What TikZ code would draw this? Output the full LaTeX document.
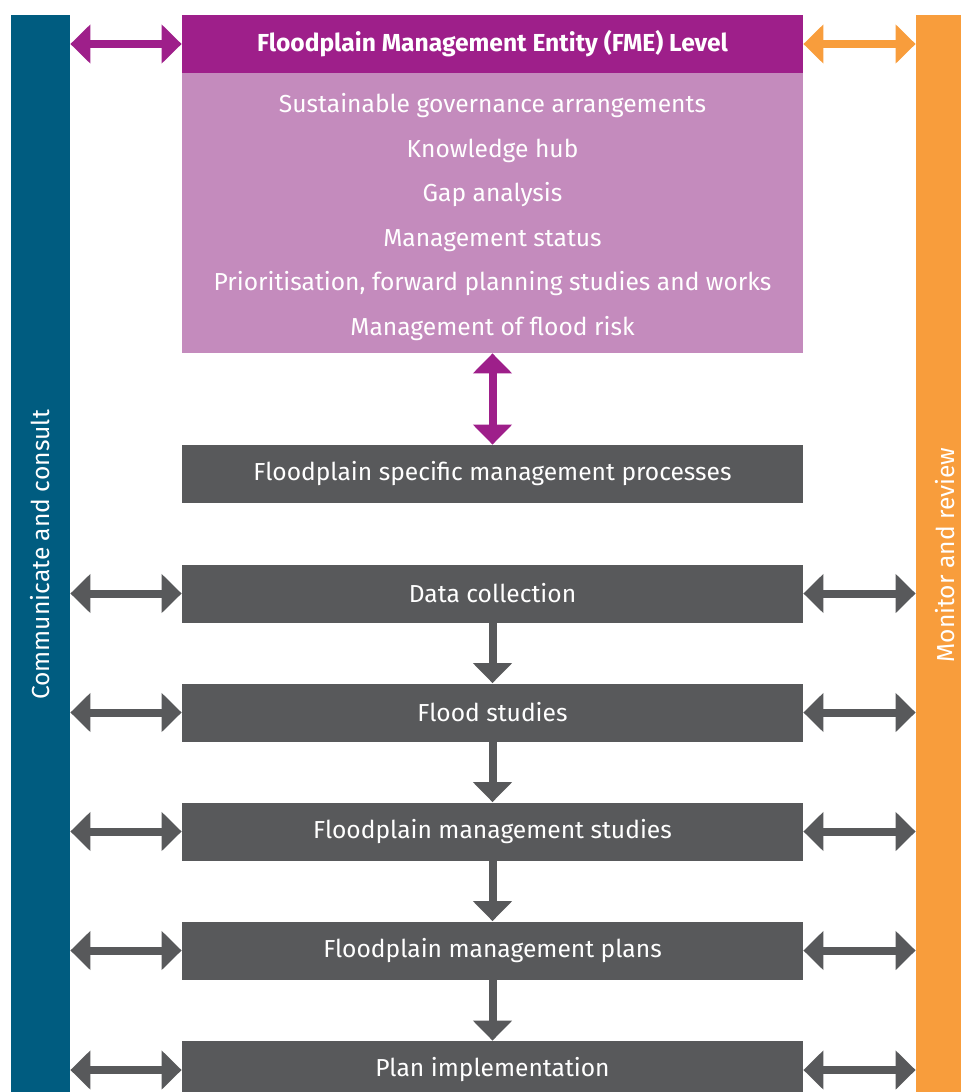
\documentclass[tikz,border=0pt]{standalone}
\usepackage{fontspec}
\setmainfont{Fira Sans}
\usepackage{xcolor}
\usepackage{tikz}
\usetikzlibrary{arrows.meta,positioning}
\definecolor{bluecons}{RGB}{0,92,128}
\definecolor{orangemon}{RGB}{248,157,60}
\definecolor{purplefme}{RGB}{158,31,138}
\definecolor{lilacfme}{RGB}{196,139,189}
\definecolor{greyproc}{RGB}{88,89,91}

\begin{document}
\begin{tikzpicture}[x=0.5pt,y=-0.5pt]

           \tikzstyle{every node}=[text=white,inner sep=0pt,font=\fontsize{12.3}{14}\selectfont]
           \tikzstyle{proc}=[fill=greyproc,minimum width=310.5pt,minimum height=29pt]
           \tikzstyle{bar}=[minimum width=29.5pt,minimum height=542.5pt]
           \tikzstyle{dbl}=[line width=4pt,{Triangle[length=10pt,width=19pt]}-{Triangle[length=10pt,width=19pt]}]
           \tikzstyle{sgl}=[line width=4pt,color=greyproc,-{Triangle[length=10pt,width=19pt]}]

    \useasboundingbox (0,0) rectangle (961,1092);
    \clip (0,0) rectangle (961,1092);

    % side bars
    \node[bar, fill=bluecons] (LB) at (40.5,557.5) {};
    \node[rotate=90] (LBtext) at (40.5,555) {Communicate and consult};
    \node[bar, fill=orangemon] (RB) at (945.5,557.5) {};
    \node[rotate=90] (RBtext) at (945.5,555) {Monitor and review};

    % FME level
    \node[fill=purplefme, minimum width=310.5pt, minimum height=29pt, font=\fontsize{12.3}{14}\selectfont\bfseries] (FME) at (492.5,44) {Floodplain Management Entity (FME) Level};
    \node[fill=lilacfme, minimum width=310.5pt, minimum height=140pt] (FMEbody) at (492.5,213) {};
    \node[align=center, font=\fontsize{12.3}{22.25}\selectfont] (FMEtext) at (492.5,217)
        {Sustainable governance arrangements\\Knowledge hub\\Gap analysis\\Management status\\Prioritisation, forward planning studies and works\\Management of flood risk};

    % processes
    \node[proc] (P0) at (492.5,474) {Floodplain specific management processes};
    \node[proc] (P1) at (492.5,593.5) {Data collection};
    \node[proc] (P2) at (492.5,712.5) {Flood studies};
    \node[proc] (P3) at (492.5,831.5) {Floodplain management studies};
    \node[proc] (P4) at (492.5,950.5) {Floodplain management plans};
    \node[proc] (P5) at (492.5,1070) {Plan implementation};

    \draw[dbl, color=purplefme] (LB.east |- FME.west) -- (FME.west);
    \draw[dbl, color=orangemon] (FME.east) -- (RB.west |- FME.east);
    \draw[dbl, color=purplefme] (FMEbody.south) -- (P0.north);

    \draw[dbl, color=greyproc] (LB.east |- P1.west) -- (P1.west);
    \draw[dbl, color=greyproc] (LB.east |- P2.west) -- (P2.west);
    \draw[dbl, color=greyproc] (LB.east |- P3.west) -- (P3.west);
    \draw[dbl, color=greyproc] (LB.east |- P4.west) -- (P4.west);
    \draw[dbl, color=greyproc] (LB.east |- P5.west) -- (P5.west);

    \draw[dbl, color=greyproc] (P1.east) -- (RB.west |- P1.east);
    \draw[dbl, color=greyproc] (P2.east) -- (RB.west |- P2.east);
    \draw[dbl, color=greyproc] (P3.east) -- (RB.west |- P3.east);
    \draw[dbl, color=greyproc] (P4.east) -- (RB.west |- P4.east);
    \draw[dbl, color=greyproc] (P5.east) -- (RB.west |- P5.east);

    \draw[sgl] (P1.south) -- (P2.north);
    \draw[sgl] (P2.south) -- (P3.north);
    \draw[sgl] (P3.south) -- (P4.north);
    \draw[sgl] (P4.south) -- (P5.north);

\end{tikzpicture}
\end{document}
